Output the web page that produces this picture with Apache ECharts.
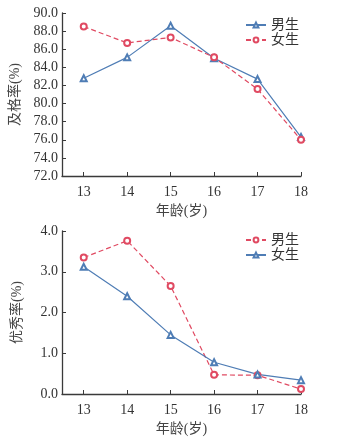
<!DOCTYPE html>
<html>
<head>
<meta charset="utf-8">
<script src="https://cdn.jsdelivr.net/npm/echarts@6/dist/echarts.min.js"></script>
<style>
html, body { margin: 0; padding: 0; background: #fff; }
#main { width: 344px; height: 438px; }
</style>
</head>
<body>
<div id="main"></div>
<script>
var ages = [13, 14, 15, 16, 17, 18];
var passBoys = [82.8, 85.1, 88.6, 85.0, 82.7, 76.3];
var passGirls = [88.5, 86.7, 87.3, 85.1, 81.6, 76.0];
var excBoys = [3.35, 3.76, 2.65, 0.47, 0.46, 0.12];
var excGirls = [3.12, 2.40, 1.45, 0.78, 0.48, 0.34];

var blue = '#4f7db5';
var red = '#e04a62';
var axisCol = '#3a3a3a';
var font = '"Liberation Serif", "Noto Sans CJK SC", serif';

function pairs(ys) {
    return ages.map(function (a, i) { return [a, ys[i]]; });
}

function xAxis(idx) {
    return {
        type: 'value', gridIndex: idx, min: 12.5, max: 18,
        name: '年龄(岁)', nameLocation: 'middle', nameGap: 28,
        nameTextStyle: { fontFamily: font, fontSize: 14, color: '#444' },
        axisLine: { lineStyle: { color: axisCol, width: 1.3 } },
        axisTick: { inside: true, length: 4, customValues: ages, lineStyle: { color: axisCol } },
        axisLabel: { customValues: ages, fontFamily: font, fontSize: 14, color: '#333', margin: 9 },
        splitLine: { show: false }
    };
}

function yAxis(idx, name, min, max, interval) {
    return {
        type: 'value', gridIndex: idx, min: min, max: max, interval: interval,
        name: name, nameLocation: 'middle', nameGap: 38,
        nameTextStyle: { fontFamily: font, fontSize: 14, color: '#444' },
        axisLine: { show: true, lineStyle: { color: axisCol, width: 1.3 } },
        axisTick: { show: true, inside: true, length: 4, lineStyle: { color: axisCol } },
        axisLabel: {
            fontFamily: font, fontSize: 14, color: '#333', margin: 4,
            formatter: function (v) { return v.toFixed(1); }
        },
        splitLine: { show: false }
    };
}

function line(name, data, color, dashed, symbol, xi, yi) {
    return {
        name: name, type: 'line', xAxisIndex: xi, yAxisIndex: yi,
        data: pairs(data),
        symbol: symbol, symbolSize: 6,
        lineStyle: { color: color, width: 1.2, type: dashed ? [5, 3] : 'solid' },
        itemStyle: { color: color, borderWidth: 1 },
        emphasis: { disabled: true }
    };
}

function legend(top, names) {
    return {
        orient: 'vertical', left: 240, top: top, itemGap: 1, itemWidth: 20, itemHeight: 6,
        textStyle: { fontFamily: font, fontSize: 14, color: '#333' },
        data: names
    };
}

var chart = echarts.init(document.getElementById('main'));
chart.setOption({
    animation: false,
    grid: [
        { left: 62, top: 13, width: 239, height: 163 },
        { left: 62, top: 231, width: 239, height: 163 }
    ],
    legend: [
        legend(13, ['男生', '女生']),
        legend(228, ['男生 ', '女生 '])
    ],
    xAxis: [xAxis(0), xAxis(1)],
    yAxis: [yAxis(0, '及格率(%)', 72, 90, 2), yAxis(1, '优秀率(%)', 0, 4, 1)],
    series: [
        line('男生', passBoys, blue, false, 'emptyTriangle', 0, 0),
        line('女生', passGirls, red, true, 'emptyCircle', 0, 0),
        line('男生 ', excBoys, red, true, 'emptyCircle', 1, 1),
        line('女生 ', excGirls, blue, false, 'emptyTriangle', 1, 1)
    ]
});
</script>
</body>
</html>
